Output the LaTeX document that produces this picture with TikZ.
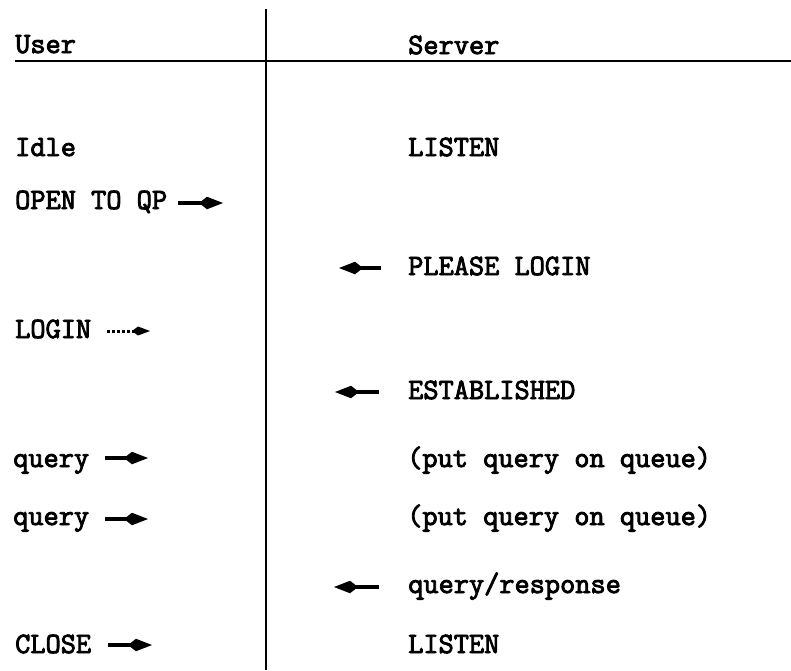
\documentclass[tikz,border=0pt]{standalone}
\usepackage{fontspec}
\setmonofont{Latin Modern Mono}[FakeBold=3,BoldFont=*]
\usetikzlibrary{arrows.meta}
\newcommand{\twfont}{\fontsize{29.5}{30}\ttfamily\bfseries}
\begin{document}
\begin{tikzpicture}[x=1pt,y=-1pt,
  caps/.style={anchor=base west,inner sep=0pt,font=\twfont},
  lower/.style={anchor=base west,inner sep=0pt,font=\twfont},
  rule/.style={line width=2.6pt},
  msg/.style={line width=4pt,-{Kite[length=24pt,width=12.5pt,inset=8pt]}},
  faintmsg/.style={line width=3pt,dotted,-{Kite[length=18pt,width=9pt,inset=6pt]}}]
\useasboundingbox (0,0) rectangle (791,670);
% frame lines
\coordinate (vtop) at (266,9);
\coordinate (vbot) at (266,670);
\coordinate (hl) at (15,61);
\coordinate (hr) at (791,61);
\draw[rule] (vtop) -- (vbot);
\draw[rule] (hl) -- (hr);
% headers
\node[caps] (user) at (15,53) {User};
\node[caps] (server) at (408,54) {Server};
% user column
\node[caps] (idle) at (15,156) {Idle};
\node[caps] (open) at (15,209) {OPEN TO QP};
\node[caps] (login) at (15,338) {LOGIN};
\node[lower] (q1) at (13,467) {query};
\node[lower] (q2) at (13,525) {query};
\node[caps] (close) at (15,653) {CLOSE};
% server column
\node[caps] (listen1) at (408,156) {LISTEN};
\node[caps] (please) at (408,275) {PLEASE LOGIN};
\node[caps] (estab) at (408,399) {ESTABLISHED};
\node[lower] (put1) at (407,467) {(put query on queue)};
\node[lower] (put2) at (407,525) {(put query on queue)};
\node[lower] (resp) at (408,593) {query/response};
\node[caps] (listen2) at (408,653) {LISTEN};
% arrows
\coordinate (a1s) at (178,203); \coordinate (a1e) at (223,203);
\coordinate (a2s) at (381,268); \coordinate (a2e) at (339,268);
\coordinate (a3s) at (107,331); \coordinate (a3e) at (150,331);
\coordinate (a4s) at (379,392); \coordinate (a4e) at (335,392);
\coordinate (a5s) at (105,458); \coordinate (a5e) at (148,458);
\coordinate (a6s) at (105,519); \coordinate (a6e) at (148,519);
\coordinate (a7s) at (379,587); \coordinate (a7e) at (334,587);
\coordinate (a8s) at (108,645); \coordinate (a8e) at (152,645);
\draw[msg] (a1s) -- (a1e);
\draw[msg] (a2s) -- (a2e);
\draw[faintmsg] (a3s) -- (a3e);
\draw[msg] (a4s) -- (a4e);
\draw[msg] (a5s) -- (a5e);
\draw[msg] (a6s) -- (a6e);
\draw[msg] (a7s) -- (a7e);
\draw[msg] (a8s) -- (a8e);
\end{tikzpicture}
\end{document}
